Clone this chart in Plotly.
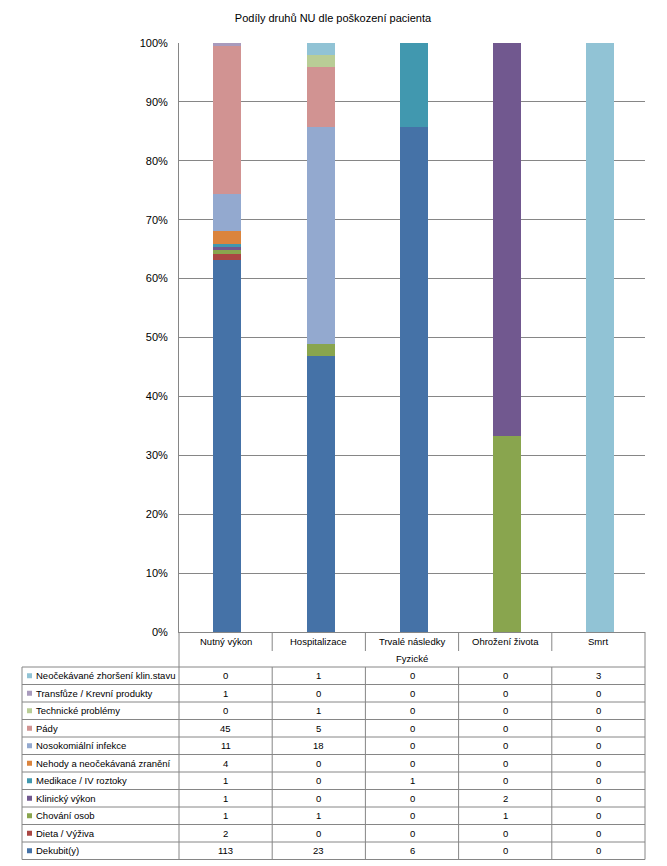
import plotly.graph_objects as go

categories = ["Nutný výkon", "Hospitalizace", "Trvalé následky", "Ohrožení života", "Smrt"]
group_label = "Fyzické"

# series listed bottom-to-top of the stack
series_names = [
    "Dekubit(y)",
    "Dieta / Výživa",
    "Chování osob",
    "Klinický výkon",
    "Medikace / IV roztoky",
    "Nehody a neočekávaná zranění",
    "Nosokomiální infekce",
    "Pády",
    "Technické problémy",
    "Transfůze / Krevní produkty",
    "Neočekávané zhoršení klin.stavu",
]
series_values = [
    [113, 23, 6, 0, 0],
    [2, 0, 0, 0, 0],
    [1, 1, 0, 1, 0],
    [1, 0, 0, 2, 0],
    [1, 0, 1, 0, 0],
    [4, 0, 0, 0, 0],
    [11, 18, 0, 0, 0],
    [45, 5, 0, 0, 0],
    [0, 1, 0, 0, 0],
    [1, 0, 0, 0, 0],
    [0, 1, 0, 0, 3],
]
series_colors = [
    "#4572A7", "#AA4643", "#89A54E", "#71588F", "#4198AF", "#DB843D",
    "#93A9CF", "#D19392", "#B9CD96", "#A99BBD", "#91C3D5",
]

OFF = 8  # page body margin
W, H = 667 - OFF, 866 - OFF
# desired page-pixel positions, converted to figure pixels
L, R, T, B = 179 - OFF, 645 - OFF, 43 - OFF, 632 - OFF
FONT = "Liberation Sans"
GRID = "#868686"
FS = 9.5


def px(x):
    return (x - OFF - L) / (R - L)


def py(y):
    return (B - (y - OFF)) / (B - T)


fig = go.Figure()
for name, vals, col in zip(series_names, series_values, series_colors):
    fig.add_trace(go.Bar(x=categories, y=vals, name=name, marker_color=col,
                         marker_line_width=0, width=0.3, offset=-0.13))

shapes = []
annotations = []


def txt(x, y, text, xref="paper", xanchor="center"):
    annotations.append(dict(x=x, y=y, xref=xref, yref="paper", text=text, showarrow=False,
                            xanchor=xanchor, yanchor="middle",
                            font=dict(size=FS, color="#000", family=FONT)))


# table geometry (page pixels)
row_top = 667
row_h = 17.5
n = len(series_names)
tab_left = 22
tab_bottom = row_top + n * row_h
ax_y = 632
plot_left = 179
plot_right = 645

# header: category labels
for i, c in enumerate(categories):
    txt(i, py(641), c, xref="x")
txt(0.5, py(658), group_label)

# vertical dividers between categories in header
for k in range(1, len(categories)):
    shapes.append(dict(type="line", xref="x", yref="paper", x0=k - 0.5, x1=k - 0.5,
                       y0=py(ax_y), y1=py(651), line=dict(color=GRID, width=1)))
# outer verticals of plot area down through table
for xx in [plot_left, plot_right]:
    shapes.append(dict(type="line", xref="paper", yref="paper", x0=px(xx), x1=px(xx),
                       y0=py(ax_y), y1=py(tab_bottom), line=dict(color=GRID, width=1)))
# category dividers inside table
for k in range(1, len(categories)):
    shapes.append(dict(type="line", xref="x", yref="paper", x0=k - 0.5, x1=k - 0.5,
                       y0=py(row_top), y1=py(tab_bottom), line=dict(color=GRID, width=1)))
# left border
shapes.append(dict(type="line", xref="paper", yref="paper", x0=px(tab_left), x1=px(tab_left),
                   y0=py(row_top), y1=py(tab_bottom), line=dict(color=GRID, width=1)))
# horizontal lines
for r in range(n + 1):
    yy = row_top + r * row_h
    shapes.append(dict(type="line", xref="paper", yref="paper", x0=px(tab_left), x1=px(plot_right),
                       y0=py(yy), y1=py(yy), line=dict(color=GRID, width=1)))

# rows: top row = last series
for r in range(n):
    si = n - 1 - r
    yc = row_top + r * row_h + row_h / 2
    shapes.append(dict(type="rect", xref="paper", yref="paper", x0=px(27), x1=px(32),
                       y0=py(yc - 2.5), y1=py(yc + 2.5), fillcolor=series_colors[si],
                       line=dict(width=0)))
    txt(px(34), py(yc), series_names[si], xanchor="left")
    for i, v in enumerate(series_values[si]):
        txt(i, py(yc), str(v), xref="x")

fig.update_layout(
    width=W, height=H,
    margin=dict(l=L, r=W - R, t=T, b=H - B, pad=0),
    barmode="stack", barnorm="percent",
    showlegend=False,
    paper_bgcolor="white", plot_bgcolor="white",
    title=dict(text="Podíly druhů NU dle poškození pacienta", x=(333 - OFF) / W,
               xref="container", xanchor="center", y=1 - (18 - OFF) / H, yanchor="middle",
               font=dict(size=11, color="#000", family=FONT)),
    xaxis=dict(showticklabels=False, showgrid=False, showline=True, linecolor=GRID,
               range=[-0.5, 4.5], ticks=""),
    yaxis=dict(range=[0, 100], dtick=10, ticksuffix="%", showgrid=True, gridcolor=GRID,
               gridwidth=1, showline=True, linecolor=GRID, ticks="", zeroline=False,
               tickfont=dict(size=11, color="#000", family=FONT), ticklabelstandoff=8),
    shapes=shapes,
    annotations=annotations,
)

fig.write_html("out.html")
